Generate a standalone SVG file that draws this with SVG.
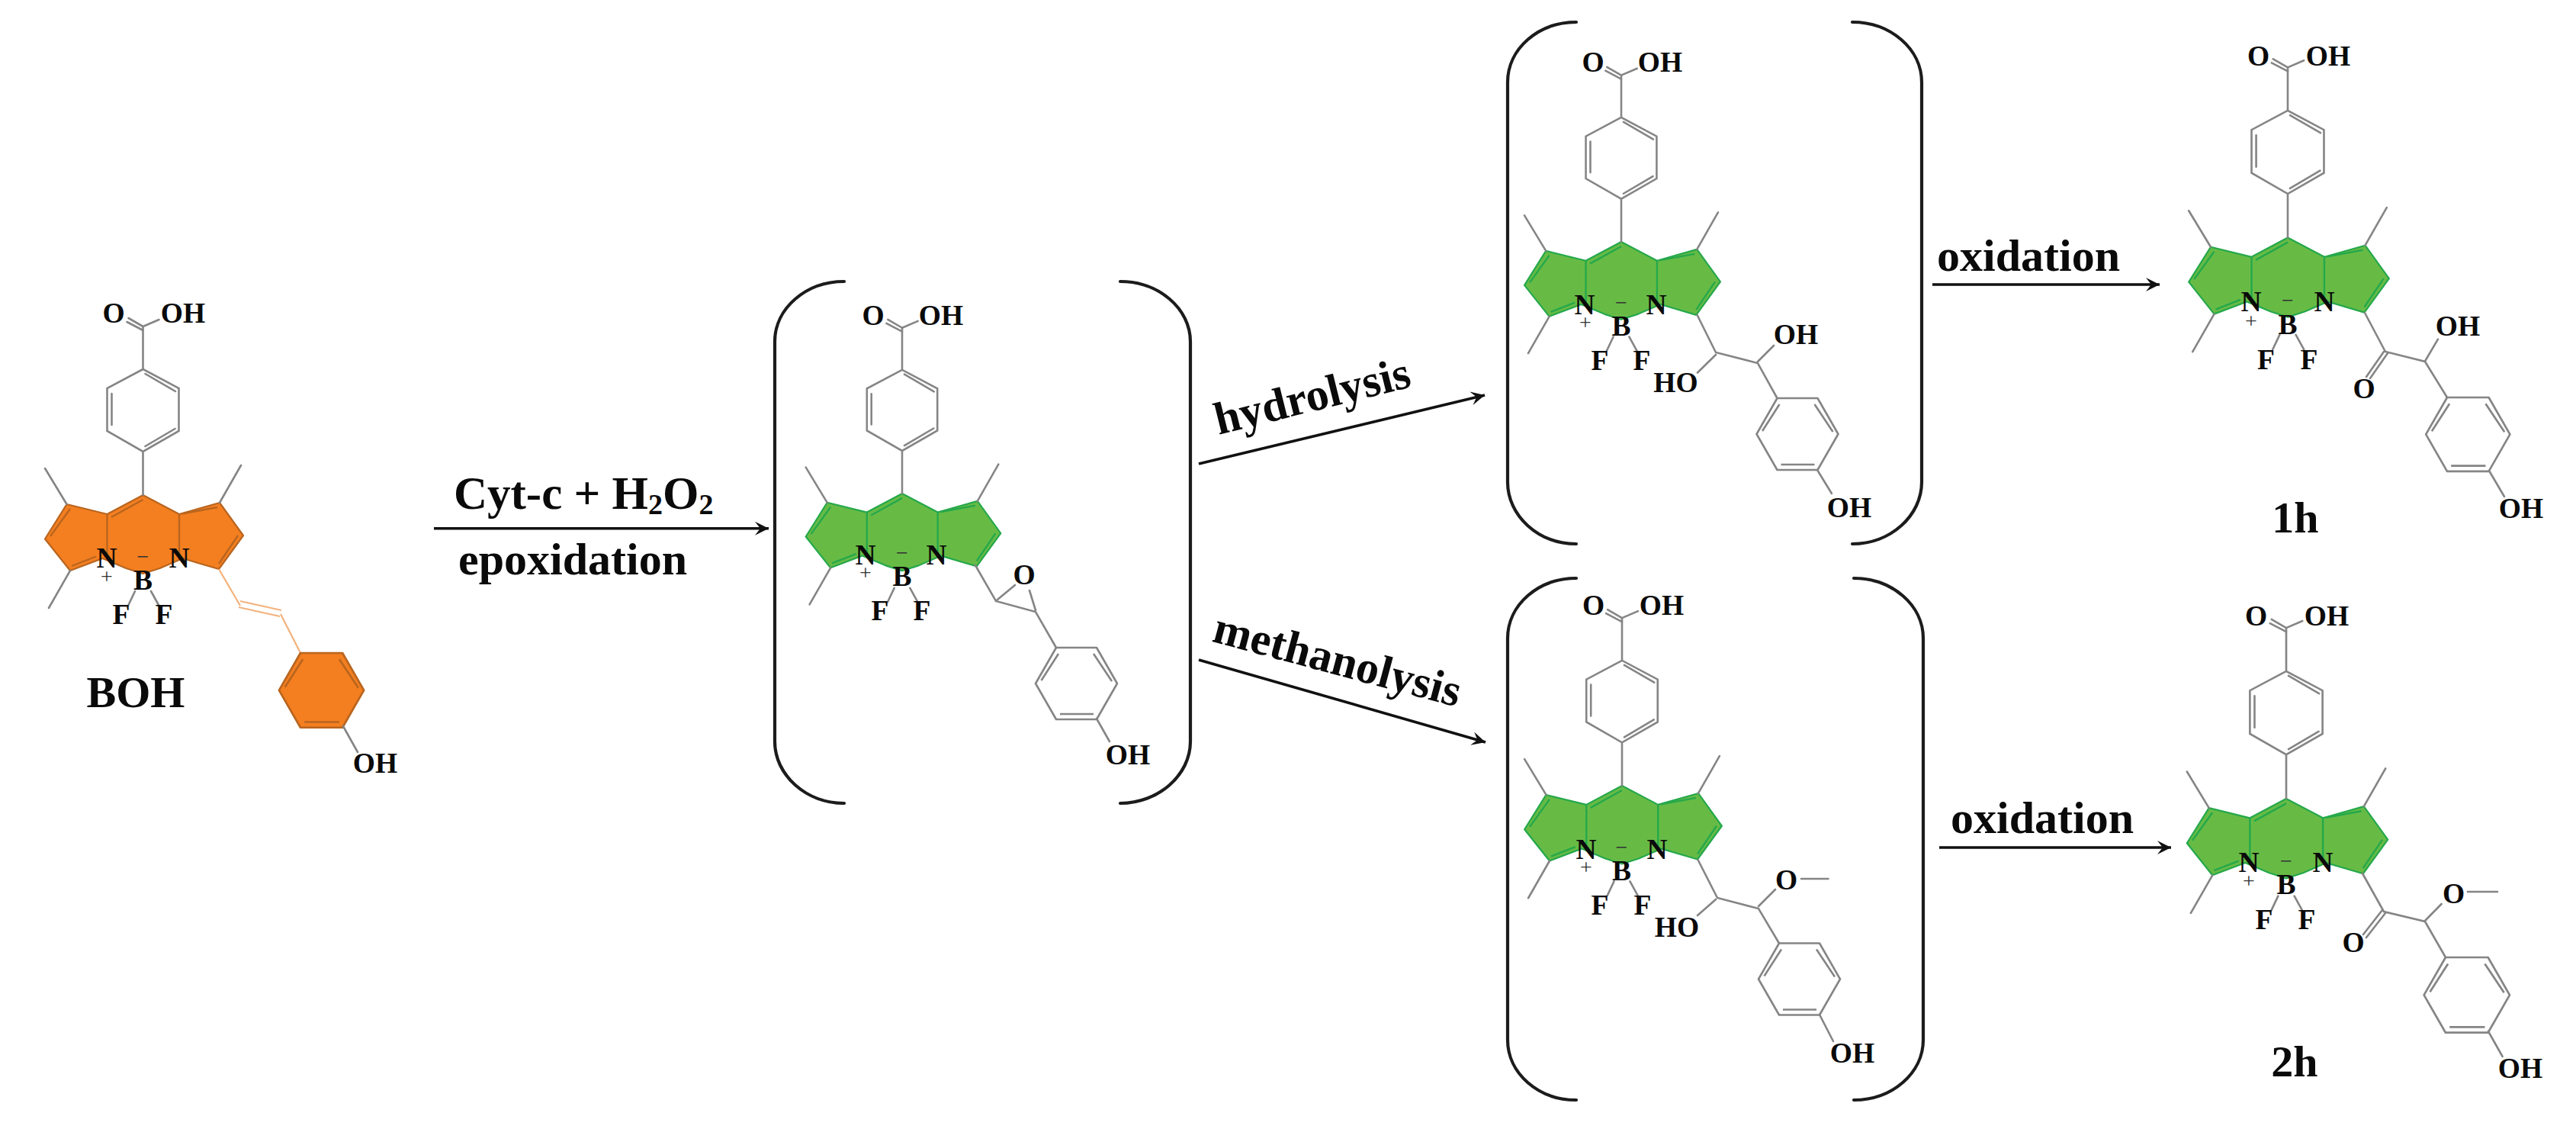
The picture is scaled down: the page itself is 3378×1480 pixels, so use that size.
<svg xmlns="http://www.w3.org/2000/svg" xmlns:xlink="http://www.w3.org/1999/xlink" width="3378" height="1480" viewBox="0 0 3378 1480">
<style>
text{font-family:"Liberation Serif","Times New Roman",serif;fill:#0a0a0a}
.a{font-size:37.5px;font-weight:700;text-anchor:middle}
.c{font-size:28px;font-weight:400;text-anchor:middle;fill:#333}
.t{font-size:60px;font-weight:700}
.l{font-size:58px;font-weight:700;text-anchor:middle}
.b{fill:none;stroke:#858585;stroke-width:2.6;stroke-linecap:round}
.v{fill:none;stroke:#f4b27c;stroke-width:2.2}
.k{fill:none;stroke:#1c1c1c;stroke-width:4.2;stroke-linecap:round}
.r{fill:none;stroke:#111;stroke-width:3.6}
.bf{fill:var(--f);stroke:var(--s);stroke-width:2.2;stroke-linejoin:round}
.bs{fill:none;stroke:var(--s);stroke-width:2.4}
.pf{fill:var(--pf,none);stroke:var(--ps,#858585);stroke-width:2.6;stroke-linejoin:round}
.ps{fill:none;stroke:var(--ps,#858585);stroke-width:2.6}
.org{--f:#f47f20;--s:#b9651f}
.grn{--f:#67bb45;--s:#25a84b}
.orgring{--pf:#f47f20;--ps:#b9651f}
</style>
<defs>
<marker id="arrow" markerUnits="userSpaceOnUse" markerWidth="24" markerHeight="24" refX="20" refY="12" orient="auto" overflow="visible">
<path d="M20,12 L2,3 L9,12 L2,21 Z" fill="#111"/>
</marker>
<g id="core">
<polygon class="bf" points="-47,25 0,0 47.5,25 100.5,10 131.5,53 99.5,97 52,83 22,96 0,103 -22,96 -53,83 -95.5,99 -128.5,57.5 -100,12"/>
<path class="bs" d="M-47,25V80M47.5,25V80M-41.5,29L0,6M-95.5,18L-121.5,54M-93.5,93L-61.5,80.5M51.5,24.5L97.5,16M99.5,90L124.5,53"/>
<path class="b" d="M0,-221V-165L47,-140V-84L0,-57L-47,-84V-140L0,-165M3,-159L42.5,-136M-41,-133V-92M3,-64L42,-87M0,-57V0"/>
<path class="b" d="M0,-221L21,-230M0,-221L-19,-232M0,-216L-21,-227"/>
<path class="b" d="M-128.5,-35L-100,12M128.5,-39L100.5,10M-123.5,148L-95.5,99M-10.5,126L-19.5,145M10.5,126L21,145"/>
</g>
<g id="ph">
<polygon class="pf" points="0,0 53,0 80,47 53,94 0,94 -27,47"/>
<path class="ps" d="M3,8L-19.5,43M49,8L73,44M5,87H49"/>
</g>
</defs>
<rect width="3378" height="1480" fill="#fff"/>

<g id="boh">
<use href="#core" class="org" transform="translate(187.5,649)"/>
<path class="v" d="M287,746L315,794M315,788L369,800M313,796L367,808M368,805L394,856"/>
<use href="#ph" class="orgring" transform="translate(394,856) scale(1.04)"/>
<path class="b" d="M450,952L469,986"/>
<text class="a" x="149" y="423">O</text><text class="a" x="240" y="423">OH</text>
<text class="a" x="140" y="744">N</text><text class="a" x="235" y="744">N</text>
<text class="a" x="187.5" y="773">B</text>
<text class="a" x="159" y="818">F</text><text class="a" x="215" y="818">F</text>
<text class="c" x="140" y="765">+</text><text class="c" x="187.5" y="739">−</text>
<text class="a" x="492" y="1013">OH</text>
<text class="l" x="178" y="927">BOH</text>
</g>

<g id="epoxide">
<path class="k" d="M1107,369C1057,369 1016,404 1016,448V972C1016,1016 1057,1053 1107,1053"/>
<path class="k" d="M1469,369C1519,369 1561,404 1561,448V972C1561,1016 1519,1053 1469,1053"/>
<use href="#core" class="grn" transform="translate(1183,647) scale(.983)"/>
<path class="b" d="M1279,741L1306,788L1358,802L1385,849M1308,786L1331,767M1358,800L1350,774"/>
<use href="#ph" transform="translate(1385,849)"/>
<path class="b" d="M1438,942L1455,972"/>
<text class="a" x="1145" y="426">O</text><text class="a" x="1234" y="426">OH</text>
<text class="a" x="1135" y="740">N</text><text class="a" x="1228" y="740">N</text>
<text class="a" x="1183" y="768">B</text>
<text class="a" x="1154" y="813">F</text><text class="a" x="1209" y="813">F</text>
<text class="c" x="1135" y="760">+</text><text class="c" x="1183" y="734">−</text>
<text class="a" x="1343" y="766">O</text>
<text class="a" x="1479" y="1002">OH</text>
</g>

<g id="diol">
<path class="k" d="M2067,29C2017,29 1977,64 1977,108V632C1977,676 2017,713 2067,713"/>
<path class="k" d="M2429,29C2479,29 2520,64 2520,108V632C2520,676 2479,713 2429,713"/>
<use href="#core" class="grn" transform="translate(2126,317) scale(.988)"/>
<path class="b" d="M2225.6,413L2250,462L2305,476L2330.5,522M2250,465L2226,488.5M2305,474L2326,453"/>
<use href="#ph" transform="translate(2330.5,522)"/>
<path class="b" d="M2383,616L2402,647"/>
<text class="a" x="2089" y="94">O</text><text class="a" x="2177" y="94">OH</text>
<text class="a" x="2078" y="412">N</text><text class="a" x="2172" y="412">N</text>
<text class="a" x="2126" y="440">B</text>
<text class="a" x="2098" y="485">F</text><text class="a" x="2153" y="485">F</text>
<text class="c" x="2079" y="432">+</text><text class="c" x="2126" y="406">−</text>
<text class="a" x="2197.5" y="514">HO</text><text class="a" x="2355" y="451">OH</text>
<text class="a" x="2425" y="678">OH</text>
</g>

<g id="methoxy-alcohol">
<path class="k" d="M2067,758C2017,758 1977,793 1977,837V1363C1977,1407 2017,1442 2067,1442"/>
<path class="k" d="M2431,758C2481,758 2522,793 2522,837V1363C2522,1407 2481,1442 2431,1442"/>
<use href="#core" class="grn" transform="translate(2127,1030) scale(.995)"/>
<path class="b" d="M2226.5,1127L2252,1177L2306,1191L2333,1236.5M2250,1179L2226,1200M2306,1188L2328,1166M2362,1152H2397.5"/>
<use href="#ph" transform="translate(2333,1236.5)"/>
<path class="b" d="M2386,1330L2404,1365"/>
<text class="a" x="2089.5" y="806">O</text><text class="a" x="2179" y="806">OH</text>
<text class="a" x="2080" y="1126">N</text><text class="a" x="2173" y="1126">N</text>
<text class="a" x="2126.5" y="1154">B</text>
<text class="a" x="2098" y="1199">F</text><text class="a" x="2154" y="1199">F</text>
<text class="c" x="2080" y="1146">+</text><text class="c" x="2126.5" y="1120">−</text>
<text class="a" x="2199" y="1228">HO</text><text class="a" x="2342.6" y="1166">O</text>
<text class="a" x="2429" y="1393">OH</text>
</g>

<g id="product-1h">
<use href="#core" class="grn" transform="translate(3000,311.6) scale(1.01)"/>
<path class="b" d="M3101,410L3128,461L3180,474L3209,521M3126,461L3103,494M3131,463L3108,496M3180,473.5L3197,444.6"/>
<use href="#ph" transform="translate(3209,521) scale(1.03)"/>
<path class="b" d="M3264,617L3284,651"/>
<text class="a" x="2961.6" y="86">O</text><text class="a" x="3053" y="86">OH</text>
<text class="a" x="2952" y="408">N</text><text class="a" x="3048" y="408">N</text>
<text class="a" x="3000" y="438">B</text>
<text class="a" x="2971.5" y="484">F</text><text class="a" x="3028" y="484">F</text>
<text class="c" x="2952" y="430">+</text><text class="c" x="3000" y="403">−</text>
<text class="a" x="3100" y="522">O</text><text class="a" x="3223" y="440">OH</text>
<text class="a" x="3306" y="679">OH</text>
<text class="l" x="3010" y="698">1h</text>
</g>

<g id="product-2h">
<use href="#core" class="grn" transform="translate(2998,1047) scale(1.013)"/>
<path class="b" d="M3098,1145L3126,1195L3180,1208L3207,1255M3124,1193L3099,1225M3128,1197L3103,1229M3180,1207L3201.6,1185M3236,1169H3275"/>
<use href="#ph" transform="translate(3207,1255) scale(1.05)"/>
<path class="b" d="M3263,1352L3281.6,1385"/>
<text class="a" x="2958.6" y="820">O</text><text class="a" x="3051" y="820">OH</text>
<text class="a" x="2949" y="1143">N</text><text class="a" x="3046" y="1143">N</text>
<text class="a" x="2998" y="1172">B</text>
<text class="a" x="2969" y="1218">F</text><text class="a" x="3025" y="1218">F</text>
<text class="c" x="2949" y="1164">+</text><text class="c" x="2998" y="1138">−</text>
<text class="a" x="3086" y="1248">O</text><text class="a" x="3217.6" y="1184">O</text>
<text class="a" x="3305" y="1413">OH</text>
<text class="l" x="3009" y="1411">2h</text>
</g>

<g id="connectors">
<path class="r" marker-end="url(#arrow)" d="M569,692.7H1008"/>
<path class="r" marker-end="url(#arrow)" d="M1572,608L1947,518"/>
<path class="r" marker-end="url(#arrow)" d="M1572,865L1948,973"/>
<path class="r" marker-end="url(#arrow)" d="M2534,373H2832"/>
<path class="r" marker-end="url(#arrow)" d="M2543,1111H2847"/>
</g>

<g id="connector-labels">
<text class="t" x="595" y="667" font-size="61" style="font-size:61px">Cyt-c + H<tspan dy="7" style="font-size:38px">2</tspan><tspan dy="-7">O</tspan><tspan dy="7" style="font-size:38px">2</tspan></text>
<text class="t" x="601" y="753">epoxidation</text>
<text class="t" transform="translate(1598,570) rotate(-14)">hydrolysis</text>
<text class="t" transform="translate(1588,840.6) rotate(15)">methanolysis</text>
<text class="t" x="2540" y="355">oxidation</text>
<text class="t" x="2558" y="1092">oxidation</text>
</g>
</svg>
